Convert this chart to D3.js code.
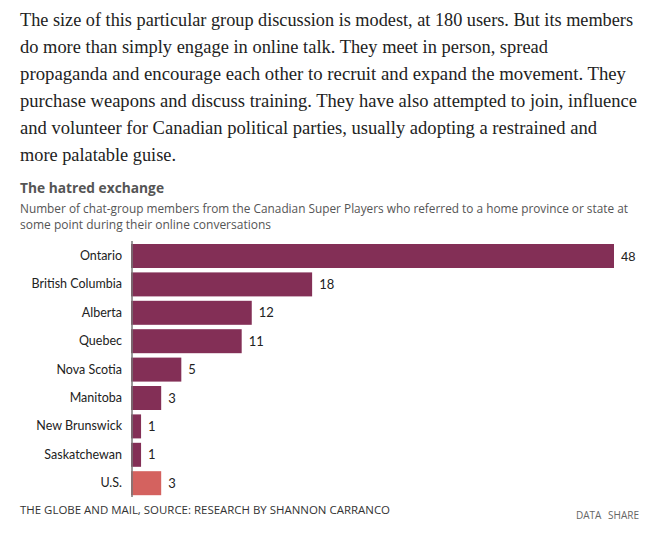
<!DOCTYPE html>
<html>
<head>
<meta charset="utf-8">
<script src="https://cdn.jsdelivr.net/npm/d3@7"></script>
<style>
  html, body { margin: 0; padding: 0; background: #fff; }
  svg { display: block; }
</style>
</head>
<body>
<svg id="chart" width="659" height="533"></svg>
<script>
const introLines = [
  "The size of this particular group discussion is modest, at 180 users. But its members",
  "do more than simply engage in online talk. They meet in person, spread",
  "propaganda and encourage each other to recruit and expand the movement. They",
  "purchase weapons and discuss training. They have also attempted to join, influence",
  "and volunteer for Canadian political parties, usually adopting a restrained and",
  "more palatable guise."
];
const introLineEnds = [633, 548, 626, 637, 597, 176];
const title = "The hatred exchange";
const subtitleLines = [
  "Number of chat-group members from the Canadian Super Players who referred to a home province or state at",
  "some point during their online conversations"
];
const categories = ["Ontario", "British Columbia", "Alberta", "Quebec", "Nova Scotia", "Manitoba", "New Brunswick", "Saskatchewan", "U.S."];
const values = [48, 18, 12, 11, 5, 3, 1, 1, 3];
const groups = ["CA", "CA", "CA", "CA", "CA", "CA", "CA", "CA", "US"];
const source = "THE GLOBE AND MAIL, SOURCE: RESEARCH BY SHANNON CARRANCO";

const svg = d3.select("#chart");

// Intro paragraph
const intro = svg.append("g");
introLines.forEach((t, i) => {
  intro.append("text")
    .attr("x", 20)
    .attr("y", 26 + i * 27)
    .attr("font-family", "'Liberation Serif', 'DejaVu Serif', serif")
    .attr("font-size", 18.5)
    .attr("fill", "#222")
    .attr("textLength", introLineEnds[i] - 20).attr("lengthAdjust", "spacingAndGlyphs")
    .text(t);
});

// Title & subtitle
svg.append("text")
  .attr("x", 20).attr("y", 193)
  .attr("font-family", "'Open Sans', 'Noto Sans', sans-serif")
  .attr("font-weight", 700)
  .attr("font-size", 15)
  .attr("fill", "#555")
  .attr("textLength", 144).attr("lengthAdjust", "spacingAndGlyphs")
  .text(title);

const subEnds = [628, 271];
subtitleLines.forEach((t, i) => {
  svg.append("text")
    .attr("x", 20).attr("y", 213 + i * 16)
    .attr("font-family", "'Open Sans', 'Noto Sans', sans-serif")
    .attr("font-size", 12)
    .attr("fill", "#555")
    .attr("textLength", subEnds[i] - 20).attr("lengthAdjust", "spacingAndGlyphs")
    .text(t);
});

// Bars
const x = d3.scaleLinear().domain([0, 48]).range([131, 614]);
const y = d3.scaleBand().domain(categories).range([241.8, 497.4]).paddingInner(0.155).paddingOuter(0.0775);
const color = d3.scaleOrdinal().domain(["CA", "US"]).range(["#832f56", "#d4625f"]);

const data = categories.map((c, i) => ({ c, v: values[i], g: groups[i] }));

svg.append("g").selectAll("rect").data(data).join("rect")
  .attr("x", x(0))
  .attr("y", d => y(d.c))
  .attr("width", d => x(d.v) - x(0))
  .attr("height", y.bandwidth())
  .attr("fill", d => color(d.g));

// Axis
const axis = svg.append("g").attr("transform", `translate(132,0)`)
  .call(d3.axisLeft(y).tickSize(0).tickPadding(10));
axis.select(".domain").attr("stroke", "#777").attr("stroke-width", 1.5)
  .attr("d", "M0,241V497");
axis.selectAll(".tick text")
  .attr("font-family", "Lato, 'Open Sans', sans-serif")
  .attr("font-size", 12.5)
  .attr("fill", "#222");

// Value labels
svg.append("g").selectAll("text").data(data).join("text")
  .attr("x", d => x(d.v) + 7)
  .attr("y", d => y(d.c) + y.bandwidth() / 2)
  .attr("dy", "0.35em")
  .attr("font-family", (d, i) => i === 0 ? "'Liberation Sans', Arial, sans-serif" : "Lato, 'Open Sans', sans-serif")
  .attr("font-size", 13)
  .attr("fill", "#222")
  .text(d => d.v);

// Footer
svg.append("text")
  .attr("x", 20).attr("y", 514)
  .attr("font-family", "'Open Sans', 'Noto Sans', sans-serif")
  .attr("font-size", 11.5)
  .attr("fill", "#333")
  .attr("textLength", 370).attr("lengthAdjust", "spacingAndGlyphs")
  .text(source);

svg.append("text")
  .attr("x", 576).attr("y", 519)
  .attr("font-family", "'Open Sans', 'Noto Sans', sans-serif")
  .attr("font-size", 10)
  .attr("fill", "#666")
  .text("DATA");
svg.append("text")
  .attr("x", 639).attr("y", 519)
  .attr("text-anchor", "end")
  .attr("font-family", "'Open Sans', 'Noto Sans', sans-serif")
  .attr("font-size", 10)
  .attr("fill", "#666")
  .text("SHARE");
</script>
</body>
</html>
